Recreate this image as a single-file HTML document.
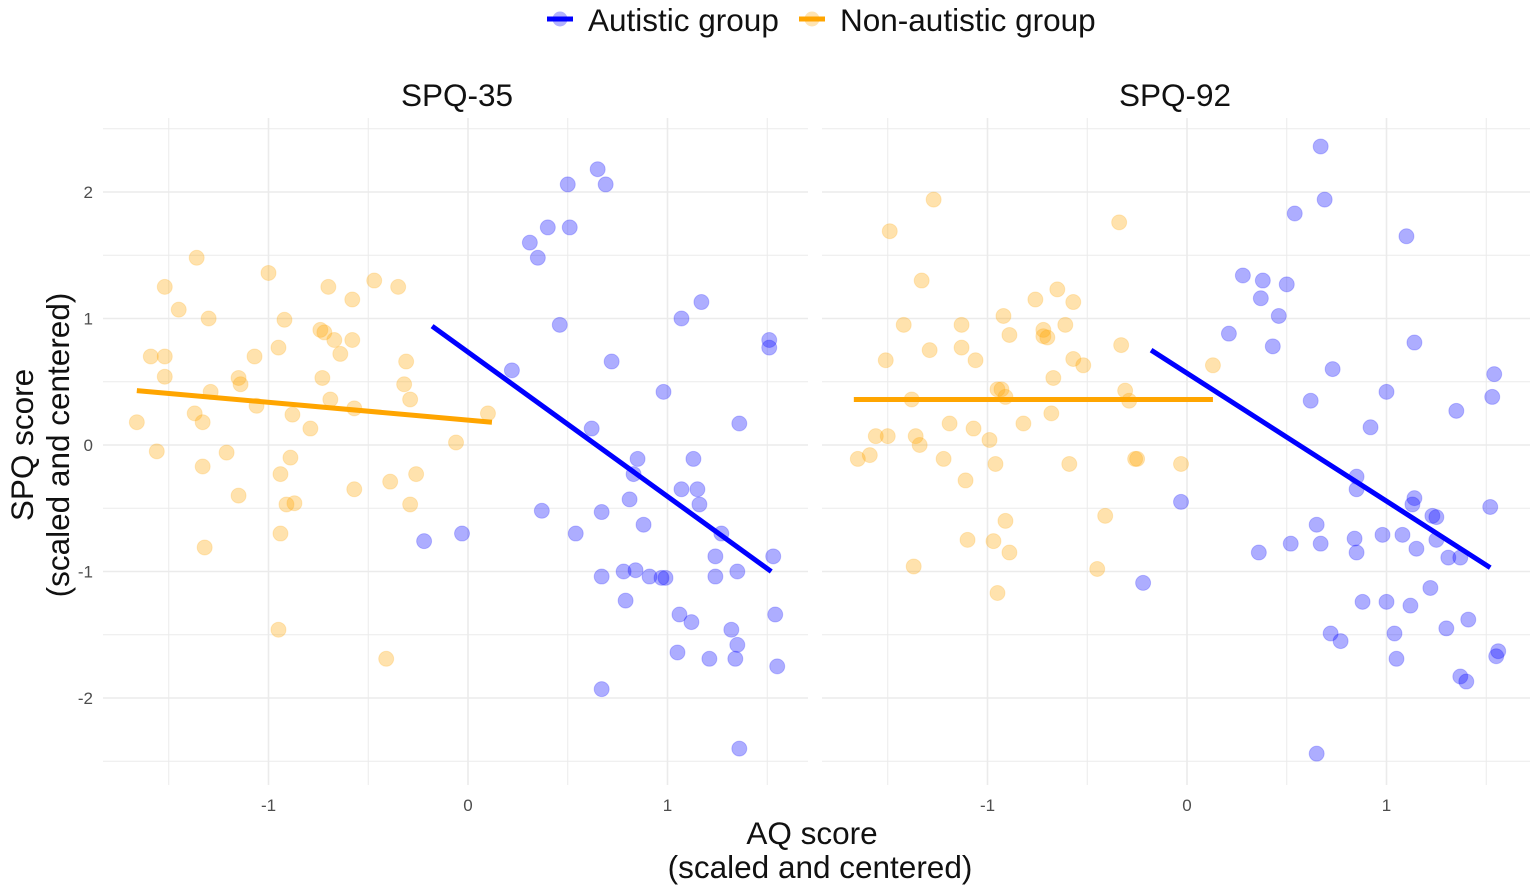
<!DOCTYPE html>
<html><head><meta charset="utf-8"><style>
body{margin:0;background:#fff;}
svg{display:block;font-family:"Liberation Sans",sans-serif;}
</style></head><body>
<svg id="chart" width="1535" height="894">
  <g>
    <g>
      <line x1="547" y1="19" x2="573" y2="19" stroke="#0000ff" stroke-width="5"/>
      <circle cx="560" cy="19" r="7.5" fill="#0000ff" fill-opacity="0.3"/>
      <text x="588" y="31" font-size="31.5" fill="#111">Autistic group</text>
    </g>
    <g>
      <line x1="799" y1="19" x2="825" y2="19" stroke="#ffa500" stroke-width="5"/>
      <circle cx="812" cy="19" r="7.5" fill="#ffa500" fill-opacity="0.3"/>
      <text x="840" y="31" font-size="31.5" fill="#111">Non-autistic group</text>
    </g>
  </g>
  <text x="812" y="844" font-size="31.5" text-anchor="middle" fill="#111">AQ score</text>
  <text x="820" y="878" font-size="31.5" text-anchor="middle" fill="#111">(scaled and centered)</text>
  <g transform="translate(0,445) rotate(-90)">
    <text x="0" y="33" font-size="31.5" text-anchor="middle" fill="#111">SPQ score</text>
    <text x="0" y="69" font-size="31.5" text-anchor="middle" fill="#111">(scaled and centered)</text>
  </g>
</svg>
<script>
const xTicks=[-1,0,1];
const yTicks=[-2,-1,0,1,2];
const panelTitles=["SPQ-35","SPQ-92"];
// SPQ-35 panel
const p1OrangeX=[-1.66,-1.59,-1.56,-1.52,-1.52,-1.52,-1.45,-1.37,-1.36,-1.33,-1.33,-1.32,-1.30,-1.29,-1.15,-1.14,-1.15,-1.21,-1.07,-1.06,-1.00,-0.95,-0.92,-0.94,-0.94,-0.91,-0.89,-0.88,-0.87,-0.95,-0.79,-0.73,-0.70,-0.72,-0.69,-0.67,-0.64,-0.58,-0.58,-0.57,-0.57,-0.47,-0.39,-0.35,-0.32,-0.31,-0.29,-0.26,-0.29,-0.41,-0.06,0.10,-0.74];
const p1OrangeY=[0.18,0.70,-0.05,0.54,1.25,0.70,1.07,0.25,1.48,0.18,-0.17,-0.81,1.00,0.42,0.53,0.48,-0.40,-0.06,0.70,0.31,1.36,0.77,0.99,-0.23,-0.70,-0.47,-0.10,0.24,-0.46,-1.46,0.13,0.53,1.25,0.89,0.36,0.83,0.72,1.15,0.83,0.29,-0.35,1.30,-0.29,1.25,0.48,0.66,0.36,-0.23,-0.47,-1.69,0.02,0.25,0.91];
const p1BlueX=[0.31,0.35,0.40,0.50,0.51,0.65,0.69,0.46,0.22,0.72,0.62,0.37,0.54,-0.22,-0.03,0.67,0.67,0.83,0.85,0.81,0.88,0.78,0.79,0.84,0.91,0.97,0.99,0.98,1.07,1.17,1.13,1.07,1.15,1.16,1.27,1.24,1.24,1.35,1.36,1.53,1.51,1.51,1.06,1.12,1.05,1.21,1.32,1.35,1.34,1.54,1.55,1.36,0.67];
const p1BlueY=[1.60,1.48,1.72,2.06,1.72,2.18,2.06,0.95,0.59,0.66,0.13,-0.52,-0.70,-0.76,-0.70,-0.53,-1.04,-0.23,-0.11,-0.43,-0.63,-1.00,-1.23,-0.99,-1.04,-1.05,-1.05,0.42,1.00,1.13,-0.11,-0.35,-0.35,-0.47,-0.70,-0.88,-1.04,-1.00,0.17,-0.88,0.77,0.83,-1.34,-1.40,-1.64,-1.69,-1.46,-1.58,-1.69,-1.34,-1.75,-2.40,-1.93];
// SPQ-92 panel
const p2OrangeX=[-1.65,-1.59,-1.56,-1.51,-1.49,-1.50,-1.42,-1.38,-1.37,-1.36,-1.34,-1.33,-1.29,-1.27,-1.22,-1.19,-1.13,-1.13,-1.11,-1.10,-1.07,-1.06,-0.99,-0.97,-0.96,-0.95,-0.92,-0.91,-0.89,-0.93,-0.91,-0.89,-0.82,-0.76,-0.72,-0.72,-0.70,-0.68,-0.67,-0.65,-0.61,-0.59,-0.57,-0.57,-0.52,-0.45,-0.41,-0.34,-0.33,-0.31,-0.29,-0.26,-0.25,-0.03,0.13,-0.95];
const p2OrangeY=[-0.11,-0.08,0.07,0.67,1.69,0.07,0.95,0.36,-0.96,0.07,0.00,1.30,0.75,1.94,-0.11,0.17,0.95,0.77,-0.28,-0.75,0.13,0.67,0.04,-0.76,-0.15,-1.17,1.02,-0.60,-0.85,0.44,0.38,0.87,0.17,1.15,0.91,0.86,0.85,0.25,0.53,1.23,0.95,-0.15,1.13,0.68,0.63,-0.98,-0.56,1.76,0.79,0.43,0.35,-0.11,-0.11,-0.15,0.63,0.44];
const p2BlueX=[-0.22,-0.03,0.21,0.28,0.38,0.37,0.50,0.54,0.46,0.43,0.67,0.69,0.73,0.62,0.36,0.52,0.65,0.67,0.72,0.77,0.84,0.85,0.85,0.85,0.88,0.92,1.00,1.00,0.98,1.04,1.05,1.10,1.13,1.14,1.14,1.12,1.15,1.22,1.25,1.25,1.30,1.31,1.35,1.37,1.41,1.37,1.40,1.52,1.53,1.54,1.55,1.56,0.65,1.08,1.23];
const p2BlueY=[-1.09,-0.45,0.88,1.34,1.30,1.16,1.27,1.83,1.02,0.78,2.36,1.94,0.60,0.35,-0.85,-0.78,-0.63,-0.78,-1.49,-1.55,-0.74,-0.85,-0.25,-0.35,-1.24,0.14,0.42,-1.24,-0.71,-1.49,-1.69,1.65,-0.47,0.81,-0.42,-1.27,-0.82,-1.13,-0.57,-0.75,-1.45,-0.89,0.27,-0.89,-1.38,-1.83,-1.87,-0.49,0.38,0.56,-1.67,-1.63,-2.44,-0.71,-0.56];
// regression line endpoints [x1,x2],[y1,y2]
const p1OrangeFitX=[-1.66,0.12], p1OrangeFitY=[0.43,0.18];
const p1BlueFitX=[-0.18,1.52], p1BlueFitY=[0.94,-1.00];
const p2OrangeFitX=[-1.67,0.13], p2OrangeFitY=[0.36,0.36];
const p2BlueFitX=[-0.18,1.52], p2BlueFitY=[0.75,-0.97];

const NS="http://www.w3.org/2000/svg";
const svg=document.getElementById('chart');
function mk(tag,attrs,parent){const e=document.createElementNS(NS,tag);for(const k in attrs)e.setAttribute(k,attrs[k]);parent.appendChild(e);return e;}
const yScale=v=>445-v*126.5;
const panels=[
 {x0:103,x1:808,zero:468,title:457,ox:p1OrangeX,oy:p1OrangeY,bx:p1BlueX,by:p1BlueY,ofx:p1OrangeFitX,ofy:p1OrangeFitY,bfx:p1BlueFitX,bfy:p1BlueFitY},
 {x0:822,x1:1530,zero:1187,title:1175,ox:p2OrangeX,oy:p2OrangeY,bx:p2BlueX,by:p2BlueY,ofx:p2OrangeFitX,ofy:p2OrangeFitY,bfx:p2BlueFitX,bfy:p2BlueFitY}
];
panels.forEach((p,i)=>{
  const xs=v=>p.zero+v*199.5;
  const g=mk('g',{},svg);
  
  
  const t=mk('text',{x:p.title,y:106,'font-size':31.5,'text-anchor':'middle',fill:'#111'},g);
  t.textContent=panelTitles[i];
  
  
  for(let v=-2.5;v<=2.5;v+=0.5){
    const l=mk('line',{x1:p.x0,x2:p.x1,y1:yScale(v),y2:yScale(v),stroke:'#ebebeb','stroke-width':Number.isInteger(v)?1.6:1},g);
    
    
  }
  for(let v=-1.5;v<=1.5;v+=0.5){
    const l=mk('line',{x1:xs(v),x2:xs(v),y1:118,y2:785,stroke:'#ebebeb','stroke-width':Number.isInteger(v)?1.6:1},g);
    
    
  }
  xTicks.forEach(v=>{
    const tt=mk('text',{x:xs(v),y:811,'font-size':17,'text-anchor':'middle',fill:'#4d4d4d'},g);
    tt.textContent=v;
    
    
  });
  if(i===0) yTicks.forEach(v=>{
    const tt=mk('text',{x:93,y:yScale(v)+6,'font-size':17,'text-anchor':'end',fill:'#4d4d4d'},g);
    tt.textContent=v;
    
    
  });
  p.ox.forEach((x,k)=>{
    const c=mk('circle',{cx:xs(x),cy:yScale(p.oy[k]),r:7.5,fill:'#ffa500','fill-opacity':0.32,stroke:'#ffa500','stroke-opacity':0.2},g);
    
    
  });
  p.bx.forEach((x,k)=>{
    const c=mk('circle',{cx:xs(x),cy:yScale(p.by[k]),r:7.5,fill:'#0000ff','fill-opacity':0.32,stroke:'#0000ff','stroke-opacity':0.2},g);
    
    
  });
  const lo=mk('line',{x1:xs(p.ofx[0]),x2:xs(p.ofx[1]),y1:yScale(p.ofy[0]),y2:yScale(p.ofy[1]),stroke:'#ffa500','stroke-width':5},g);
  
  
  const lb=mk('line',{x1:xs(p.bfx[0]),x2:xs(p.bfx[1]),y1:yScale(p.bfy[0]),y2:yScale(p.bfy[1]),stroke:'#0000ff','stroke-width':5},g);
  
  
});
</script>
</body></html>
